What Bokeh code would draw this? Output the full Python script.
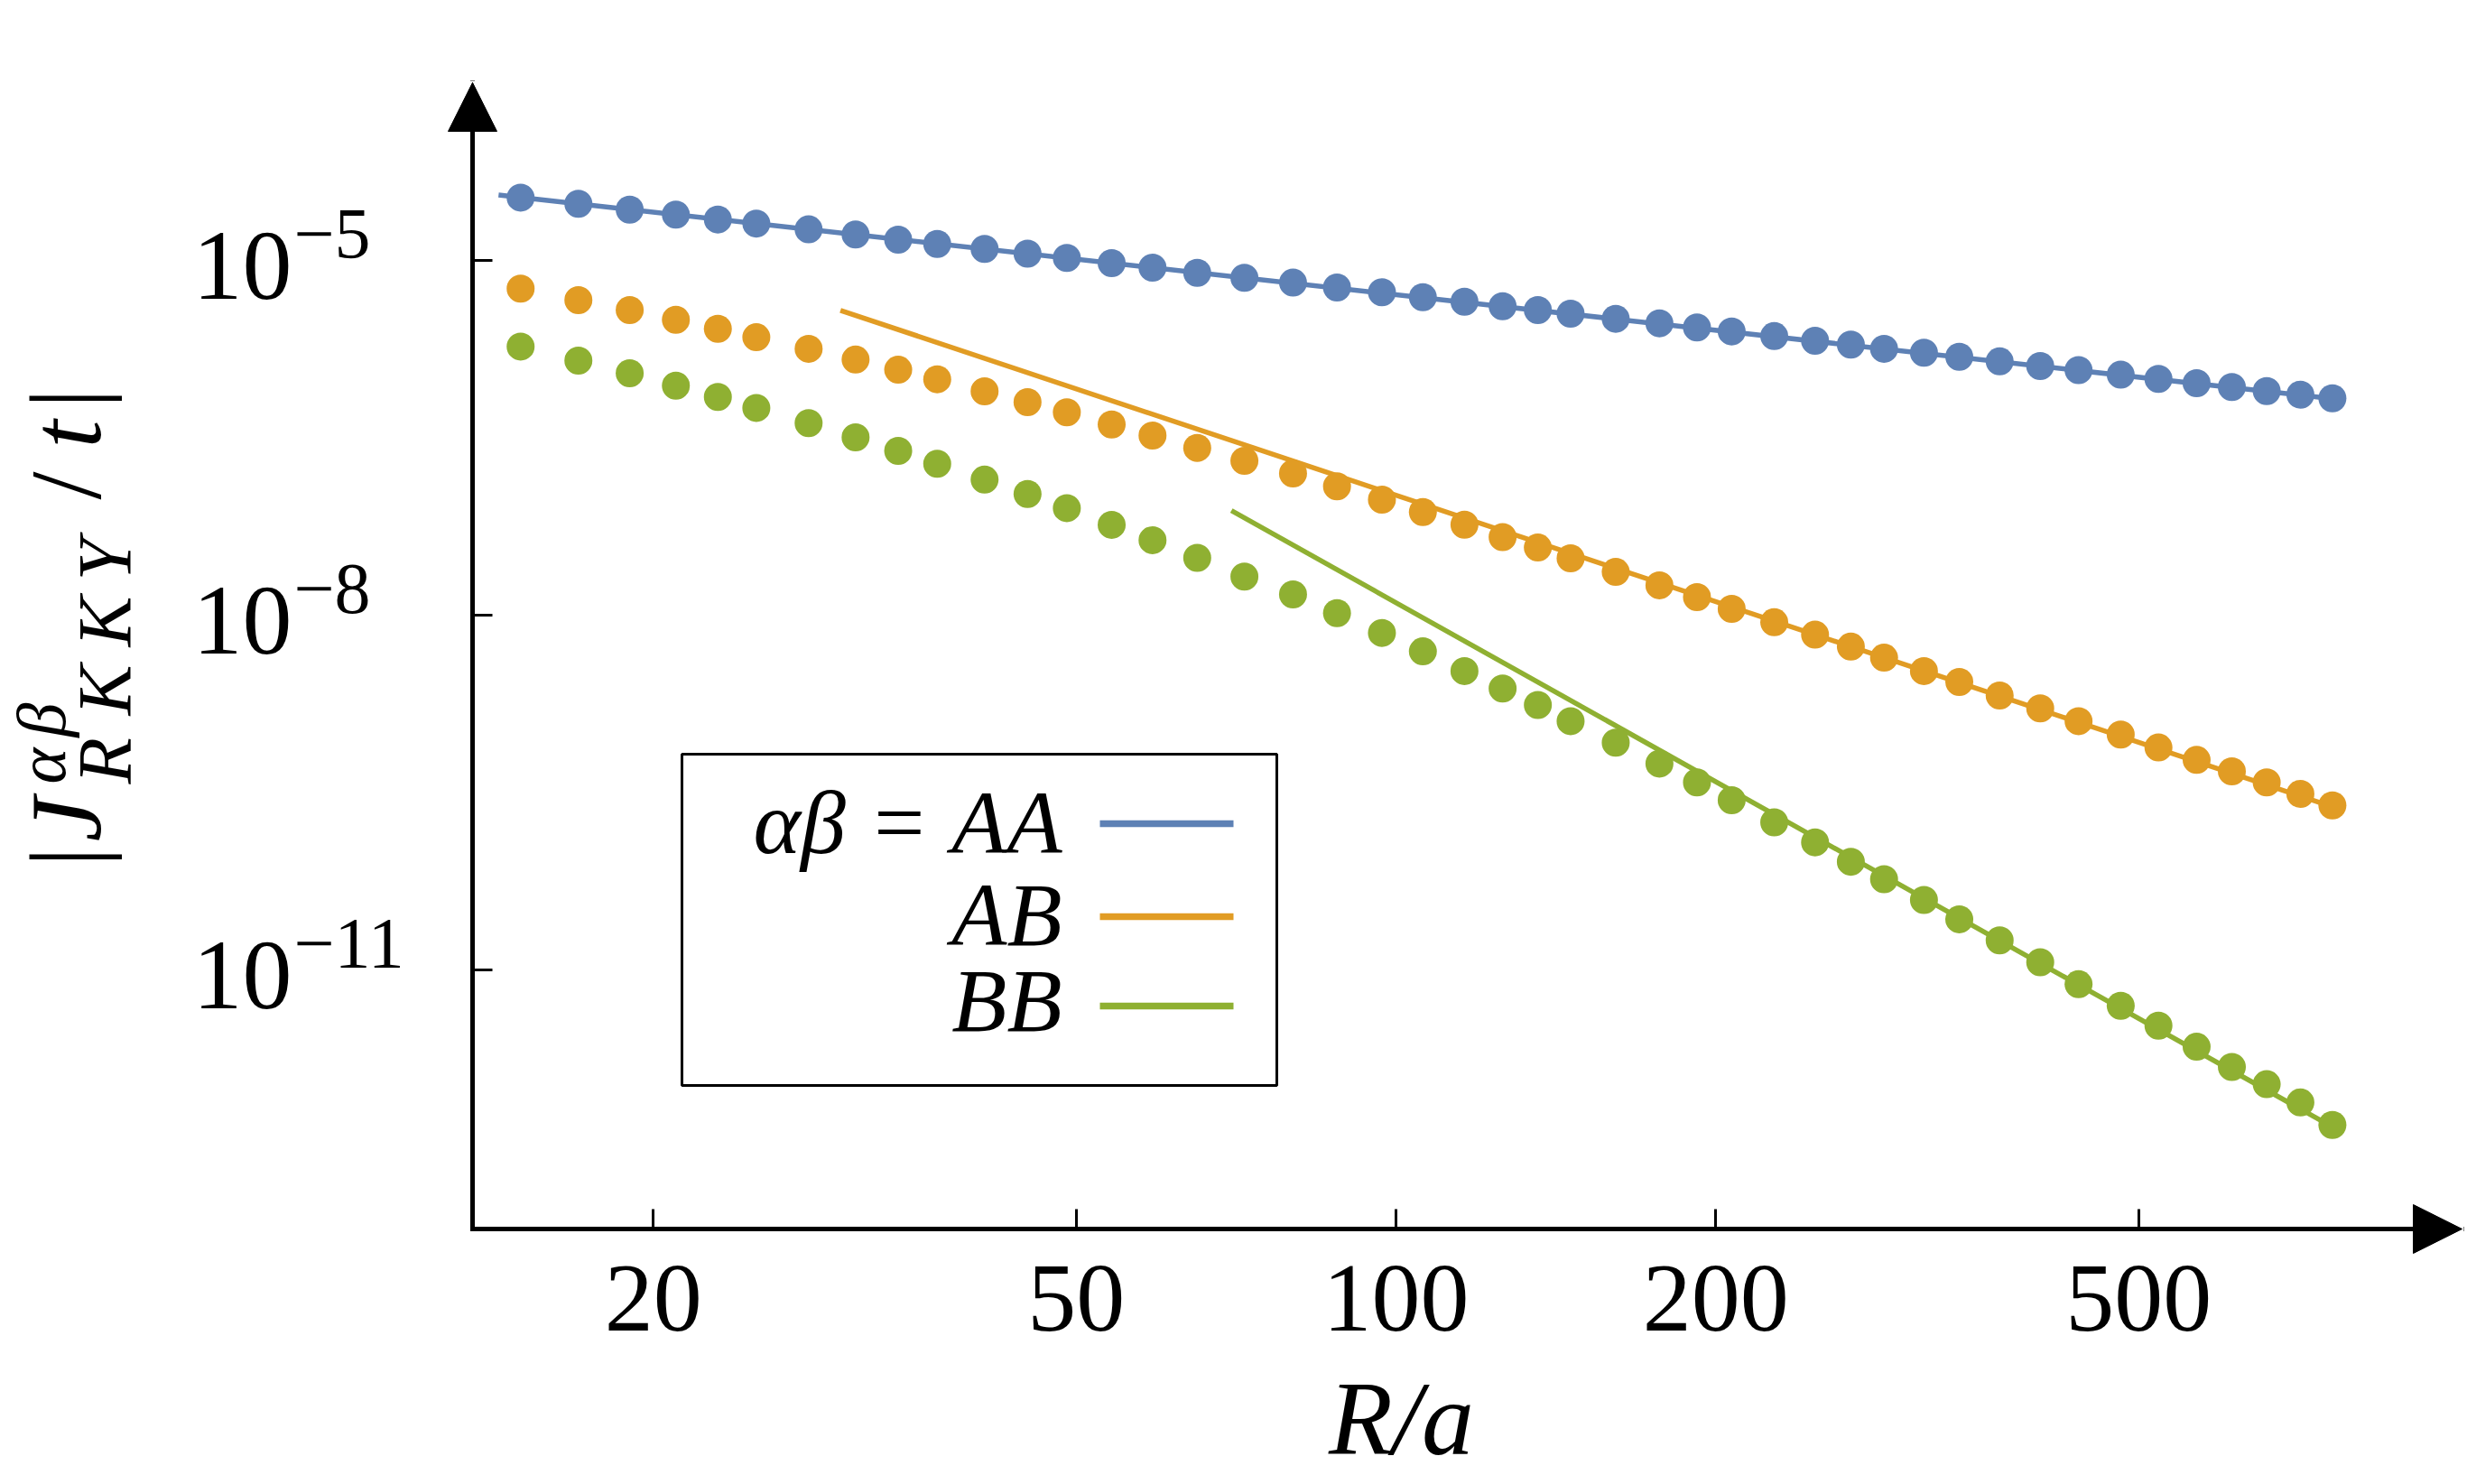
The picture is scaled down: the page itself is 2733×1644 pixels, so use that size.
import math
from bokeh.plotting import figure
from bokeh.models import (Range1d, FixedTicker, Arrow, NormalHead, Label,
                          BoxAnnotation, CustomJSTickFormatter)
from bokeh.embed import file_html
from bokeh.resources import INLINE

# ---------------- data ----------------
R = [15, 17, 19, 21, 23, 25, 28, 31, 34, 37, 41, 45, 49, 54, 59, 65, 72, 80, 88, 97, 106,
     116, 126, 136, 146, 161, 177, 192, 207, 227, 248, 268, 288, 314, 339, 370, 404, 439,
     481, 522, 567, 612, 660, 710, 761]

J_AA = [3.40e-5, 3.01e-5, 2.69e-5, 2.44e-5, 2.22e-5, 2.05e-5, 1.83e-5, 1.66e-5, 1.50e-5,
        1.38e-5, 1.25e-5, 1.14e-5, 1.05e-5, 9.48e-6, 8.69e-6, 7.85e-6, 7.13e-6, 6.49e-6,
        5.90e-6, 5.38e-6, 4.89e-6, 4.48e-6, 4.10e-6, 3.80e-6, 3.55e-6, 3.21e-6, 2.94e-6,
        2.71e-6, 2.51e-6, 2.29e-6, 2.09e-6, 1.94e-6, 1.79e-6, 1.66e-6, 1.53e-6, 1.40e-6,
        1.28e-6, 1.18e-6, 1.08e-6, 9.95e-7, 9.16e-7, 8.49e-7, 7.85e-7, 7.33e-7, 6.82e-7]

J_AB = [5.77e-6, 4.61e-6, 3.80e-6, 3.15e-6, 2.64e-6, 2.24e-6, 1.79e-6, 1.45e-6, 1.19e-6,
        9.89e-7, 7.82e-7, 6.34e-7, 5.19e-7, 4.10e-7, 3.30e-7, 2.60e-7, 2.02e-7, 1.58e-7,
        1.23e-7, 9.48e-8, 7.46e-8, 5.83e-8, 4.58e-8, 3.73e-8, 3.03e-8, 2.32e-8, 1.79e-8,
        1.42e-8, 1.13e-8, 8.71e-9, 6.84e-9, 5.42e-9, 4.37e-9, 3.37e-9, 2.72e-9, 2.09e-9,
        1.63e-9, 1.27e-9, 9.77e-10, 7.60e-10, 5.97e-10, 4.78e-10, 3.85e-10, 3.08e-10, 2.46e-10]

J_BB = [1.87e-6, 1.42e-6, 1.11e-6, 8.73e-7, 7.00e-7, 5.66e-7, 4.21e-7, 3.19e-7, 2.45e-7,
        1.91e-7, 1.40e-7, 1.06e-7, 8.04e-8, 5.81e-8, 4.31e-8, 3.05e-8, 2.12e-8, 1.50e-8,
        1.04e-8, 7.08e-9, 4.94e-9, 3.37e-9, 2.40e-9, 1.74e-9, 1.27e-9, 8.34e-10, 5.56e-10,
        3.85e-10, 2.72e-10, 1.77e-10, 1.20e-10, 8.22e-11, 5.85e-11, 3.91e-11, 2.68e-11,
        1.78e-11, 1.16e-11, 7.57e-12, 4.97e-12, 3.38e-12, 2.24e-12, 1.51e-12, 1.08e-12,
        7.57e-13, 4.88e-13]

# asymptotic power-law lines (two end points each)
AA_fit_R = [14.3, 765]
AA_fit_J = [3.58e-5, 6.73e-7]
AB_fit_R = [30, 775]
AB_fit_J = [3.78e-6, 2.27e-10]
BB_fit_R = [70, 775]
BB_fit_J = [7.67e-8, 4.29e-13]

x_ticks = [20, 50, 100, 200, 500]
x_tick_labels = ["20", "50", "100", "200", "500"]
y_ticks = [1e-5, 1e-8, 1e-11]
y_tick_exps = ["\u22125", "\u22128", "\u221211"]

legend_names = ["\u03b1\u03b2 = AA", "AB", "BB"]
colors = ["#5E81B5", "#E19C24", "#8FB032"]

# ---------------- layout helpers (page pixels -> data) ----------------
OFF = 0                                   # canvas offset on the page
X_REF_PX, X_PX_PER_DEC = 1546.0, 1177.0   # R = 100 at page x 1546
Y_REF_PX, Y_PX_PER_DEC = 288.0, 131.0     # J = 1e-5 at page y 288
BASE_FIX = 0.35                           # baseline correction (em) of svg text


def px2x(px):
    return 10 ** (2 + (px - X_REF_PX) / X_PX_PER_DEC)


def py2y(py):
    return 10 ** (-5 - (py - Y_REF_PX) / Y_PX_PER_DEC)


FONT = "Liberation Serif"
W, H = 2730, 1644
AX_LEFT, AX_BOTTOM, AX_TOP, AX_RIGHT = 523, 1361, 91, 2727   # page px of axes

p = figure(width=W, height=H, x_axis_type="log", y_axis_type="log",
           x_range=Range1d(px2x(OFF), px2x(OFF + W)),
           y_range=Range1d(py2y(OFF + H), py2y(OFF)),
           output_backend="svg", toolbar_location=None,
           min_border=0, min_border_left=0, min_border_right=0,
           min_border_top=0, min_border_bottom=0)
p.title.visible = False
p.outline_line_color = None
p.xgrid.visible = False
p.ygrid.visible = False
p.background_fill_color = "white"
p.border_fill_color = "white"

empty = CustomJSTickFormatter(code="return ''")
p.xaxis[0].fixed_location = py2y(AX_BOTTOM)
p.yaxis[0].fixed_location = px2x(AX_LEFT)
for ax, ticks in ((p.xaxis[0], x_ticks), (p.yaxis[0], y_ticks)):
    ax.ticker = FixedTicker(ticks=ticks, minor_ticks=[])
    ax.formatter = empty
    ax.axis_line_color = None
    ax.major_tick_in = 22
    ax.major_tick_out = 0
    ax.major_tick_line_width = 3
    ax.major_tick_line_color = "black"
    ax.minor_tick_line_color = None
    ax.major_label_standoff = 0

# axis arrows
x0, y0 = px2x(AX_LEFT), py2y(AX_BOTTOM)
for xe, ye in ((px2x(AX_RIGHT), y0), (x0, py2y(AX_TOP))):
    p.add_layout(Arrow(end=NormalHead(size=54, fill_color="black", line_color="black", line_width=1),
                       x_start=x0, y_start=y0, x_end=xe, y_end=ye,
                       line_width=5, line_color="black", line_cap="square"))

# data: fit lines and points
LW = 5.5
for fr, fj, c in ((AA_fit_R, AA_fit_J, colors[0]), (AB_fit_R, AB_fit_J, colors[1]),
                  (BB_fit_R, BB_fit_J, colors[2])):
    p.line(fr, fj, line_color=c, line_width=LW)
for js, c in ((J_AA, colors[0]), (J_AB, colors[1]), (J_BB, colors[2])):
    p.scatter(R, js, marker="circle", size=31, fill_color=c, line_color=None)


def lab(x, y, text, size, style="normal", align="left", rotated=False, y_offset=0):
    fix = BASE_FIX * size
    if rotated:
        xo, yo, ang = -fix, y_offset, math.pi / 2
    else:
        xo, yo, ang = 0, y_offset + fix, 0.0
    p.add_layout(Label(x=x, y=y, x_offset=xo, y_offset=yo, text=text, angle=ang,
                       text_font=FONT, text_font_size=f"{size}px", text_font_style=style,
                       text_align=align, text_baseline="alphabetic", text_color="black"))


# x tick labels
for t, s in zip(x_ticks, x_tick_labels):
    lab(t, py2y(1476), s, 108, align="center")

# y tick labels 10^n
for t, e in zip(y_ticks, y_tick_exps):
    lab(px2x(213), t, "10", 110, y_offset=-44)
    lab(px2x(325), t, e, 80, y_offset=1)

# x axis title R/a
lab(px2x(1552), py2y(1612), "R/a", 116, style="italic", align="center")

# y axis title |J^{ab}_{RKKY}/t| (rotated, built from pieces)
pieces = [
    # text, baseline page x, start page y, size, style
    ("|", 112, 960, 112, "normal"),
    ("J", 112, 932, 112, "italic"),
    ("\u03b1", 72, 868, 76, "italic"),
    ("\u03b2", 72, 816, 76, "italic"),
    ("R", 145, 868, 84, "italic"),
    ("K", 145, 792, 84, "italic"),
    ("K", 145, 716, 84, "italic"),
    ("Y", 145, 643, 84, "italic"),
    ("/", 112, 553, 112, "normal"),
    ("t", 112, 496, 112, "italic"),
    ("|", 112, 452, 112, "normal"),
]
for txt, bx, sy, fs, st in pieces:
    lab(px2x(bx), py2y(sy), txt, fs, style=st, rotated=True)

# legend box
p.add_layout(BoxAnnotation(left=px2x(755), right=px2x(1414), top=py2y(835), bottom=py2y(1202),
                           fill_color="white", fill_alpha=1.0, line_color="black",
                           line_alpha=1.0, line_width=3, level="underlay"))
leg_rows = [912, 1015, 1114]
leg_base = [946, 1048, 1143]
for name, c, ry, bl in zip(legend_names, colors, leg_rows, leg_base):
    p.segment(x0=[px2x(1218)], y0=[py2y(ry)], x1=[px2x(1366)], y1=[py2y(ry)],
              line_color=c, line_width=7.5)
    lab(px2x(1176), py2y(bl), name, 100, style="italic", align="right")

open("out.html", "w").write(file_html(p, INLINE))
